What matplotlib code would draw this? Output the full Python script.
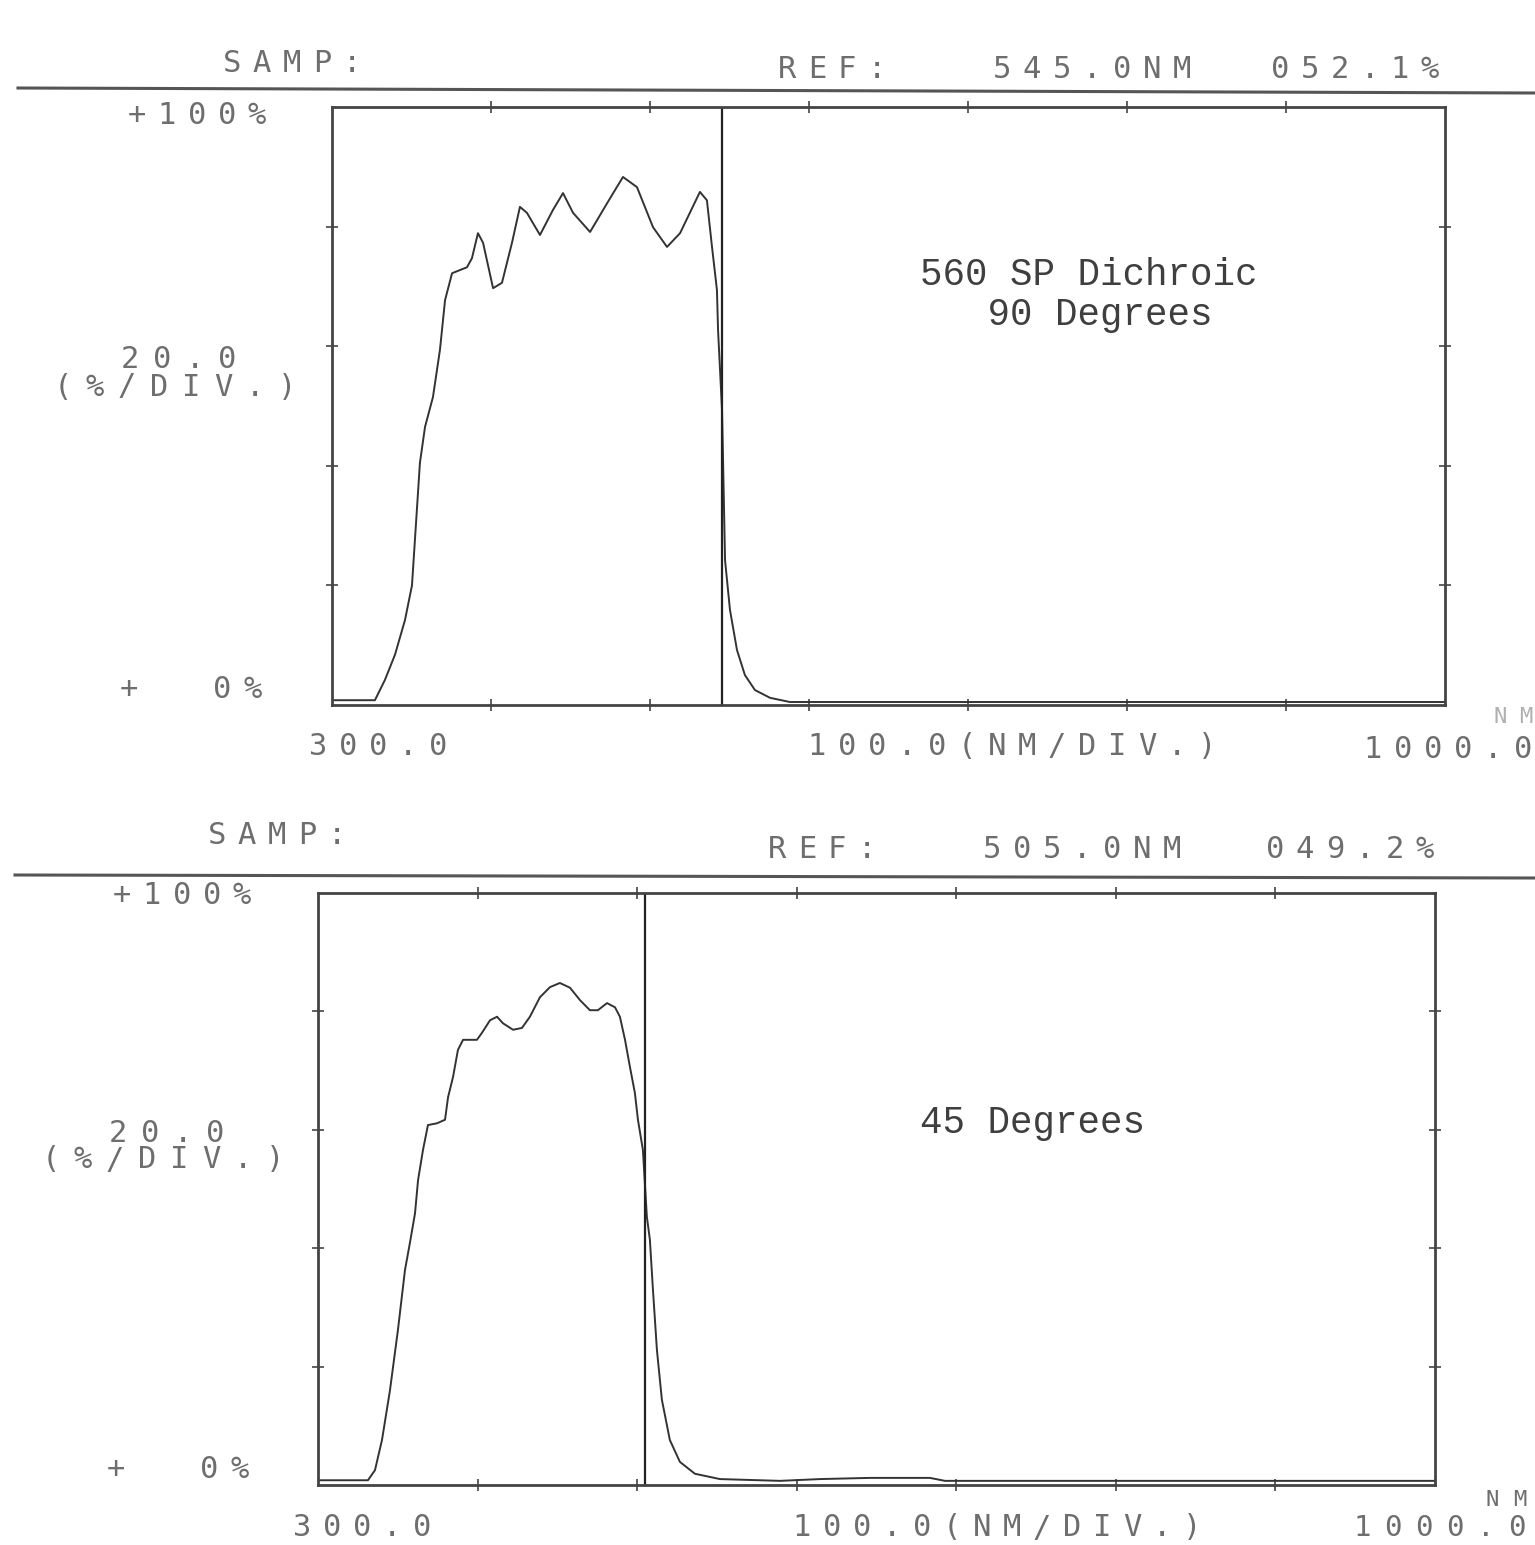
import matplotlib
matplotlib.use('Agg')
import matplotlib.pyplot as plt
from matplotlib.lines import Line2D

# --- data (wavelength nm, transmission %) ---
wl_90 = [300, 327, 333.3, 339.6, 345.9, 350.3, 355.3, 358.5, 363.5, 367.9, 371.1, 375.5,
         384.9, 388, 391.8, 395, 401.3, 406.9, 413.2, 418.2, 422.6, 430.8, 439, 445.3,
         451.6, 462.3, 473, 483, 491.8, 501.9, 510.7, 518.9, 531.4, 535.8, 539, 542.1,
         542.8, 545.3, 545.9, 547.2, 550.3, 554.7, 559.7, 566, 575.5, 588, 1000]
t_90 = [0.8, 0.8, 4.2, 8.4, 14.2, 20, 40.5, 46.5, 51.5, 59.4, 67.7, 72.2,
        73.2, 74.7, 78.9, 77.3, 69.7, 70.6, 77.3, 83.3, 82.3, 78.6, 82.8, 85.6,
        82.3, 79.1, 83.9, 88.3, 86.6, 79.9, 76.6, 78.9, 85.8, 84.4, 76.6, 69.4,
        62.7, 49.3, 41.5, 24.2, 15.9, 9.2, 5.0, 2.5, 1.2, 0.5, 0.5]

wl_45 = [300, 331.3, 335.7, 340.1, 345.1, 350.1, 354.5, 357.6, 360.8, 362.7, 365.8, 368.9,
         374.6, 379.6, 381.5, 384.6, 387.7, 390.9, 399.6, 402.8, 407.8, 412.2, 415.9,
         422.2, 427.8, 432.8, 439.1, 445.4, 451.6, 457.9, 464.2, 470.4, 475.4, 481.1,
         486.1, 489.2, 492.4, 495.5, 498.6, 500.5, 503.6, 506.1, 508, 509.9, 512.4,
         515.5, 520.5, 526.8, 536.2, 551.9, 589.5, 614.5, 645.9, 683.5, 692.9, 1000]
t_45 = [0.8, 0.8, 2.5, 7.6, 16, 26.2, 36.3, 40.9, 45.9, 51.5, 56.6, 60.8,
        61.1, 61.7, 65.5, 68.9, 73.5, 75.2, 75.2, 76.4, 78.5, 79.1, 78,
        76.9, 77.2, 79.1, 82.4, 84.1, 84.8, 84, 81.9, 80.2, 80.2, 81.4,
        80.7, 79.1, 75.2, 70.6, 66.2, 61.7, 56.6, 45.3, 41.4, 33, 22.8,
        14.4, 7.6, 3.9, 1.9, 1.0, 0.7, 1.0, 1.2, 1.2, 0.7, 0.7]

ref_nm = [545.0, 505.0]
ref_pct = [52.1, 49.2]
notes = [["560 SP Dichroic", "   90 Degrees"], ["45 Degrees"]]

W, H = 1535, 1545
fig = plt.figure(figsize=(W / 100, H / 100), dpi=100)
fig.patch.set_facecolor('white')

INK = '#6e6e6e'


def dot_text(x, y, s, pitch=30, size=22, color=INK):
    # printer text: fixed wide pitch, placed char by char (pixel coords of the scan)
    for i, ch in enumerate(s):
        if ch != ' ':
            fig.text((x + i * pitch) / W, 1 - y / H, ch, ha='center', va='center',
                     fontsize=size, color=color, family='DejaVu Sans Mono')


def panel(rect, wl, t, nm, note, note_xy):
    l, tp, r, b = rect
    ax = fig.add_axes([l / W, 1 - b / H, (r - l) / W, (b - tp) / H])
    ax.plot(wl, t, color='#333333', lw=1.4)
    ax.axvline(nm, color='#222222', lw=1.6)
    ax.set_xlim(300, 1000)
    ax.set_ylim(0, 100)
    ax.set_xticks([400, 500, 600, 700, 800, 900])
    ax.set_yticks([20, 40, 60, 80])
    ax.tick_params(direction='inout', length=9, width=1.2, color='#444444',
                   top=True, right=True, labelbottom=False, labelleft=False)
    for sp in ax.spines.values():
        sp.set_color('#444444')
        sp.set_linewidth(2.0)
    ax.set_facecolor('none')
    nx, ny = note_xy
    for k, line in enumerate(note):
        fig.text(nx / W, 1 - (ny + k * 40) / H, line, ha='left', va='center',
                 fontsize=27, color='#3f3f3f', family='Liberation Mono')
    return ax


# top panel (90 degrees)
panel((332, 107, 1445, 705), wl_90, t_90, ref_nm[0], notes[0], (920, 275))
fig.add_artist(Line2D([18 / W, 1], [1 - 88 / H, 1 - 93 / H], color='#555555', lw=2.2))
dot_text(232, 63, "SAMP:")
dot_text(787, 70, "REF:")
dot_text(1002, 70, "%.1fNM" % ref_nm[0])
dot_text(1280, 70, "%05.1f%%" % ref_pct[0])
dot_text(137, 115, "+100%")
dot_text(130, 360, "20.0", pitch=32.5)
dot_text(63, 387, "(%/DIV.)", pitch=32)
dot_text(129, 690, "+  0%", pitch=31)
dot_text(318, 746, "300.0")
dot_text(817, 746, "100.0(NM/DIV.)")
dot_text(1373, 749, "1000.0")
dot_text(1500, 717, "NM", color='#b0b0b0', size=16, pitch=26)

# bottom panel (45 degrees)
panel((318, 893, 1435, 1485), wl_45, t_45, ref_nm[1], notes[1], (920, 1123))
fig.add_artist(Line2D([15 / W, 1], [1 - 875 / H, 1 - 878 / H], color='#555555', lw=2.2))
dot_text(217, 835, "SAMP:")
dot_text(777, 850, "REF:")
dot_text(992, 850, "%.1fNM" % ref_nm[1])
dot_text(1275, 850, "%05.1f%%" % ref_pct[1])
dot_text(122, 895, "+100%")
dot_text(118, 1133, "20.0", pitch=32.5)
dot_text(51, 1160, "(%/DIV.)", pitch=32)
dot_text(116, 1470, "+  0%", pitch=31)
dot_text(302, 1528, "300.0")
dot_text(802, 1528, "100.0(NM/DIV.)")
dot_text(1362, 1528, "1000.0", pitch=31, size=21)
dot_text(1492, 1500, "NM", size=16, pitch=28)

fig.savefig('out.png', dpi=100, facecolor='white')
